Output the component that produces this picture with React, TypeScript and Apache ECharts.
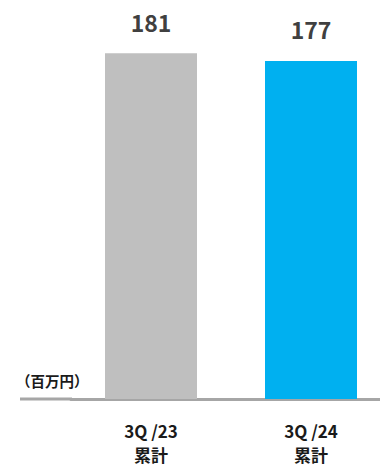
import React, { useEffect, useRef } from "react";
import * as echarts from "echarts";

const categories = ["3Q /23\n累計", "3Q /24\n累計"];
const values = [181, 177];
const barColors = ["#BFBFBF", "#00B0F0"];
const unitLabel = "（百万円）";

const FONT = '"Noto Sans CJK JP", "Noto Sans", sans-serif';

export default function App() {
  const ref = useRef<HTMLDivElement>(null);
  useEffect(() => {
    document.body.style.margin = "0";
    if (!ref.current) return;
    const chart = echarts.init(ref.current, null, { renderer: "svg" });
    chart.setOption({
      animation: false,
      grid: { left: 71, width: 320, top: 17, bottom: 69, containLabel: false },
      xAxis: {
        type: "category",
        data: categories,
        axisLine: { show: true, lineStyle: { color: "#A6A6A6", width: 3 } },
        axisTick: { show: false },
        axisLabel: {
          margin: 19,
          fontSize: 17,
          fontWeight: "bold",
          color: "#1A1A1A",
          fontFamily: FONT,
          lineHeight: 24,
        },
      },
      yAxis: {
        type: "value",
        min: 0,
        max: 200,
        show: false,
        splitLine: { show: false },
      },
      series: [
        {
          type: "bar",
          barWidth: 92,
          data: values.map((v, i) => ({ value: v, itemStyle: { color: barColors[i] } })),
          label: {
            show: true,
            position: "top",
            distance: 20,
            fontSize: 23,
            fontWeight: "bold",
            color: "#404040",
            fontFamily: FONT,
          },
        },
      ],
      graphic: [
        {
          type: "line",
          shape: { x1: 20, y1: 399, x2: 72, y2: 399 },
          style: { stroke: "#A6A6A6", lineWidth: 3 },
          silent: true,
        },
        {
          type: "text",
          left: 16,
          top: 373,
          style: {
            text: unitLabel,
            fontSize: 14.5,
            fontWeight: "bold",
            fill: "#1A1A1A",
            fontFamily: FONT,
          },
        },
      ],
    });
    return () => chart.dispose();
  }, []);
  return (
    <div style={{ width: 380, height: 468, overflow: "hidden" }}>
      <div ref={ref} style={{ width: 400, height: 468 }} />
    </div>
  );
}
